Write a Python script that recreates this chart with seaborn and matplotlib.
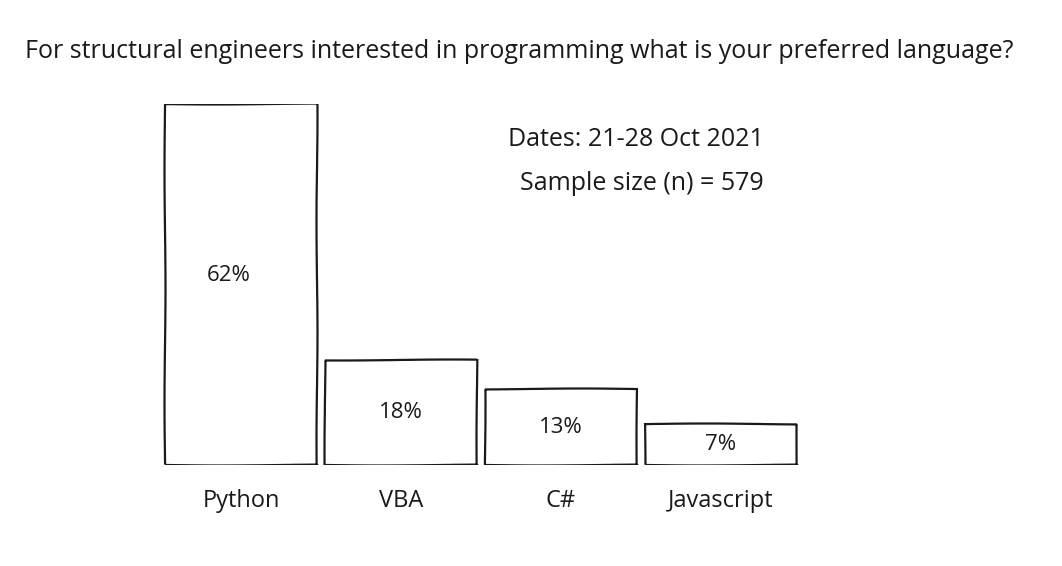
import matplotlib
matplotlib.use("Agg")
import matplotlib.pyplot as plt
import seaborn as sns
import pandas as pd

languages = ["Python", "VBA", "C#", "Javascript"]
shares = [62, 18, 13, 7]
value_labels = ["62%", "18%", "13%", "7%"]
title = "For structural engineers interested in programming what is your preferred language?"
note_lines = ["Dates: 21-28 Oct 2021", "Sample size (n) = 579"]

sns.set_theme(style="white")
plt.rcParams["font.family"] = ["Open Sans", "DejaVu Sans"]

df = pd.DataFrame({"language": languages, "share": shares})

fig = plt.figure(figsize=(10.62, 5.66), dpi=100)
ax = fig.add_axes([161 / 1062, 101 / 566, 640 / 1062, 361 / 566])

sns.barplot(data=df, x="language", y="share", ax=ax, color="white",
            edgecolor="#1a1a1a", linewidth=1.6, width=0.95, saturation=1)
for p in ax.patches:
    p.set_sketch_params(scale=0.5, length=250, randomness=2)
    p.set_facecolor("white")

for i, (v, lab) in enumerate(zip(shares, value_labels)):
    ax.text(i - (0.08 if i == 0 else 0), v / 2 + (1.5 if i == 0 else 0), lab,
            ha="center", va="center", fontsize=16, color="#1a1a1a")

ax.set_xlim(-0.5, 3.5)
ax.set_ylim(0, 62)
ax.set_xlabel("")
ax.set_ylabel("")
ax.set_yticks([])
ax.tick_params(axis="x", length=0, pad=17, labelsize=17, labelcolor="#1a1a1a")
for s in ax.spines.values():
    s.set_visible(False)

fig.text(519 / 1062, 1 - 52 / 566, title, ha="center", va="center",
         fontsize=18, color="#1a1a1a")
fig.text(636 / 1062, 1 - 140 / 566, note_lines[0], ha="center", va="center",
         fontsize=18, color="#1a1a1a")
fig.text(642 / 1062, 1 - 183 / 566, note_lines[1], ha="center", va="center",
         fontsize=18, color="#1a1a1a")

fig.savefig("out.png", dpi=100, facecolor="white")
